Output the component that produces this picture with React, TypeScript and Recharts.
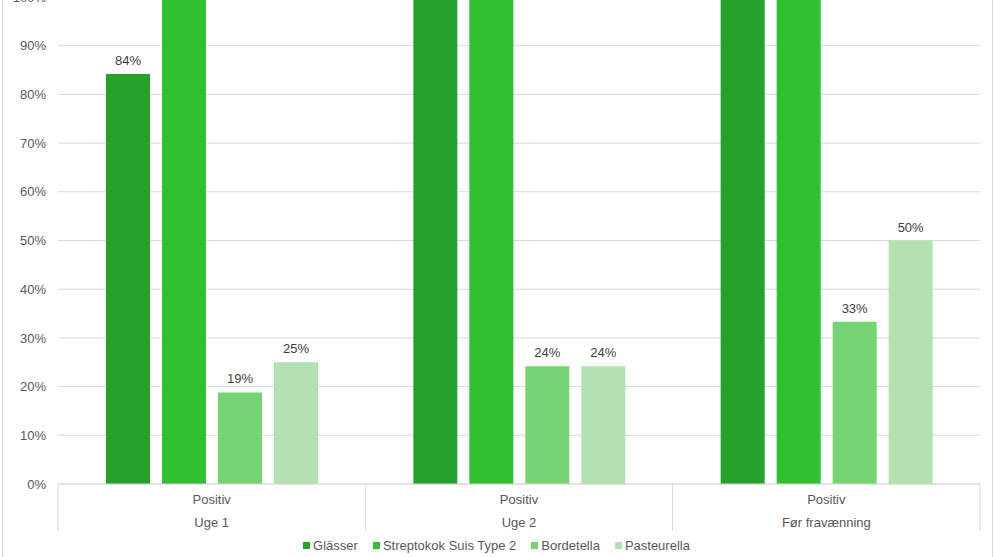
import { BarChart, Bar, XAxis, YAxis, CartesianGrid, Legend, LabelList } from "recharts";

const categories = ["Uge 1", "Uge 2", "Før fravænning"];
const subLabel = "Positiv";
const glasser = [84.2, 100, 100];
const strepto = [100, 100, 100];
const bordetella = [18.8, 24.2, 33.3];
const pasteurella = [25, 24.2, 50];
const yTicks = [0, 10, 20, 30, 40, 50, 60, 70, 80, 90, 100];

const series = [
  { key: "glasser", name: "Glässer", color: "#26a12b" },
  { key: "strepto", name: "Streptokok Suis Type 2", color: "#31c032" },
  { key: "bordetella", name: "Bordetella", color: "#76d475" },
  { key: "pasteurella", name: "Pasteurella", color: "#b2e2b0" },
];

const data = categories.map((name, i) => ({
  name,
  glasser: glasser[i],
  strepto: strepto[i],
  bordetella: bordetella[i],
  pasteurella: pasteurella[i],
}));

const FONT = "'Liberation Sans', Arial, sans-serif";
const SHIFT = 40; // top of the original chart is cut off
const W = 993;
const H = 557 + SHIFT;
const BAND = (980 - 58) / categories.length;

// y comes in 8px below the axis line (tickSize + tickMargin)
const CategoryTick = (props: any) => {
  const { x, y, payload, index } = props;
  const top = y - 8;
  return (
    <g>
      <line x1={x - BAND / 2} y1={top} x2={x - BAND / 2} y2={top + 47} stroke="#d9d9d9" />
      {index === categories.length - 1 && (
        <line x1={x + BAND / 2} y1={top} x2={x + BAND / 2} y2={top + 47} stroke="#d9d9d9" />
      )}
      <text x={x} y={top + 15} textAnchor="middle" dominantBaseline="central" fill="#595959" fontSize={13} fontFamily={FONT}>
        {subLabel}
      </text>
      <text x={x} y={top + 38} textAnchor="middle" dominantBaseline="central" fill="#595959" fontSize={13} fontFamily={FONT}>
        {payload.value}
      </text>
    </g>
  );
};

const LegendContent = () => (
  <div style={{ display: "flex", justifyContent: "center", gap: 15, fontFamily: FONT, fontSize: 13, color: "#595959" }}>
    {series.map((s) => (
      <span key={s.key} style={{ display: "flex", alignItems: "center" }}>
        <span style={{ width: 7, height: 7, background: s.color, marginRight: 3, display: "inline-block" }} />
        {s.name}
      </span>
    ))}
  </div>
);

export default function App() {
  return (
    <div style={{ position: "fixed", left: 0, top: 0, width: W, height: 557, overflow: "hidden", background: "#fff" }}>
      <div style={{ position: "absolute", left: 2, top: -10, width: 989, height: 600, border: "1px solid #d9d9d9" }} />
      <div style={{ position: "absolute", left: 0, top: -SHIFT }}>
        <BarChart
          width={W}
          height={H}
          data={data}
          margin={{ top: 37, right: 13, bottom: 26, left: 0 }}
          barSize={44}
          barGap={12}
        >
          <CartesianGrid vertical={false} stroke="#d9d9d9" />
          <XAxis
            dataKey="name"
            height={47}
            tickLine={false}
            axisLine={{ stroke: "#d9d9d9" }}
            tick={<CategoryTick />}
            interval={0}
          />
          <YAxis
            width={58}
            domain={[0, 100]}
            ticks={yTicks}
            axisLine={false}
            tickLine={false}
            tickMargin={6}
            tickFormatter={(v: number) => `${v}%`}
            tick={{ fill: "#595959", fontSize: 13, fontFamily: FONT }}
          />
          <Legend
            layout="horizontal"
            verticalAlign="middle"
            align="center"
            content={<LegendContent />}
            wrapperStyle={{ top: 578, left: 0, width: W }}
          />
          {series.map((s) => (
            <Bar key={s.key} dataKey={s.key} name={s.name} fill={s.color} isAnimationActive={false}>
              <LabelList
                dataKey={s.key}
                position="top"
                offset={9}
                formatter={(v: any) => `${Math.round(Number(v))}%`}
                style={{ fill: "#404040", fontSize: 13, fontFamily: FONT }}
              />
            </Bar>
          ))}
        </BarChart>
      </div>
    </div>
  );
}
